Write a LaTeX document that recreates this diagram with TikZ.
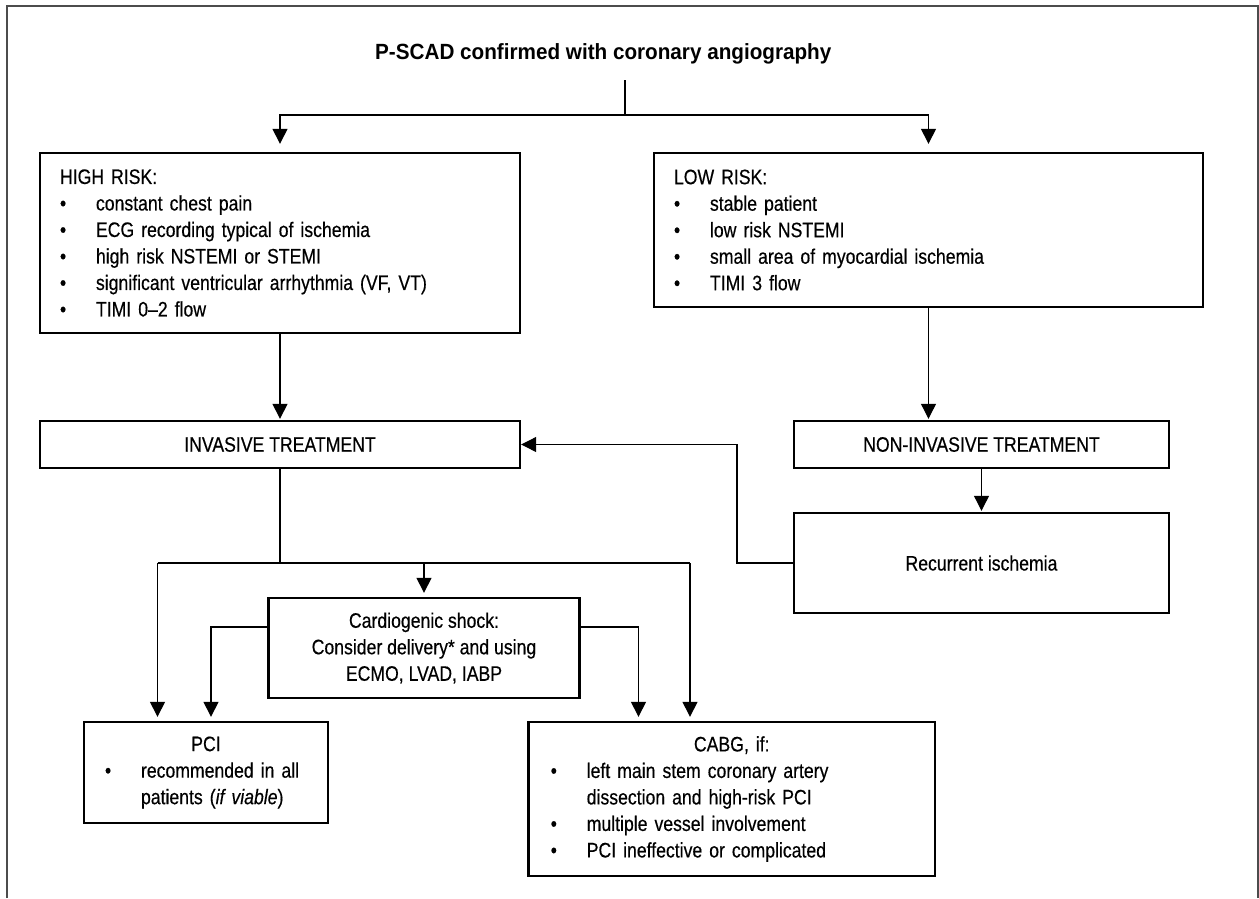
\documentclass[tikz,border=0pt]{standalone}
\usepackage{fontspec}
\setmainfont{Liberation Sans}[FakeStretch=0.84, FakeBold=0.4]
\newfontfamily\titlefont{Liberation Sans}[FakeStretch=0.94]
\usetikzlibrary{arrows.meta}

% bullet line, and the continuation line of a wrapped item
\newcommand{\bl}[1]{\par\noindent\makebox[36pt][l]{\textbullet}\mbox{#1}}
\newcommand{\cont}[1]{\par\noindent\hspace*{36pt}\mbox{#1}}
\newcommand{\bodyfont}{\fontsize{21}{26.5}\selectfont}

\begin{document}
\begin{tikzpicture}[x=1pt, y=-1pt,
  box/.style={draw, line width=2.4pt, inner sep=0pt, font=\bodyfont},
  listbox/.style={box, align=left},
  conn/.style={line width=1.4pt},
  arr/.style={conn, -{Triangle[length=15pt,width=15pt]}, shorten >=4pt},
]
\useasboundingbox (0,0) rectangle (1259,898);

% open frame
\draw[line width=2pt, black!70] (6.5,898) -- (6.5,5.5) -- (1257.5,5.5) -- (1257.5,898);

% title
\node[font=\titlefont\bfseries\fontsize{22}{26}\selectfont, anchor=base west, inner sep=0pt] (title) at (375,59)
  {P-SCAD confirmed with coronary angiography};
\coordinate (tbot) at (625,80);
\coordinate (split) at (625,115);

% risk boxes
\node[listbox, minimum width=480pt, minimum height=180pt, text width=440pt] (high) at (280,243)
  {HIGH RISK:\bl{constant chest pain}\bl{ECG recording typical of ischemia}%
   \bl{high risk NSTEMI or STEMI}\bl{significant ventricular arrhythmia (VF, VT)}\bl{TIMI 0--2 flow}};
\node[listbox, minimum width=549pt, minimum height=154pt, text width=509pt] (low) at (928.5,230)
  {LOW RISK:\bl{stable patient}\bl{low risk NSTEMI}\bl{small area of myocardial ischemia}\bl{TIMI 3 flow}};

% treatment boxes
\node[box, minimum width=480pt, minimum height=47pt] (inv) at (280,444.5) {INVASIVE TREATMENT};
\node[box, minimum width=375pt, minimum height=47pt] (noninv) at (981.5,444.5) {NON-INVASIVE TREATMENT};
\node[box, minimum width=375pt, minimum height=100pt] (rec) at (981.5,563) {Recurrent ischemia};
\node[box, minimum width=311pt, minimum height=100pt, align=center] (shock) at (424,648)
  {Cardiogenic shock:\\Consider delivery* and using\\ECMO, LVAD, IABP};

% outcome boxes
\node[listbox, minimum width=244pt, minimum height=101pt, text width=202pt] (pci) at (206,772.5)
  {{\centering PCI\par}\bl{recommended in all}\cont{patients (\textit{if viable})}};
\node[listbox, minimum width=406.5pt, minimum height=154pt, text width=362pt] (cabg) at (731.75,799)
  {{\centering CABG, if:\par}\bl{left main stem coronary artery}\cont{dissection and high-risk PCI}%
   \bl{multiple vessel involvement}\bl{PCI ineffective or complicated}};

% connectors
\draw[conn] (tbot) -- (split);
\draw[arr, shorten >=8pt] (split) -| (high.north);
\draw[arr, shorten >=8pt] (split) -| (low.north);
\draw[arr, shorten >=1pt] (high.south) -- (inv.north);
\draw[arr, line width=1.1pt, shorten >=1pt] (low.south) -- (low.south |- noninv.north);
\draw[arr, line width=1.1pt, shorten >=1pt] (noninv.south) -- (rec.north);

\coordinate (loop) at (737,563);
\draw[arr, line width=1.1pt, shorten >=0pt] (rec.west) -- (loop) |- (inv.east);

\coordinate (bus) at (280,563);
\coordinate (busL) at (157.5,563);
\coordinate (busR) at (690,563);
\coordinate (sL) at (211,0);
\coordinate (sR) at (638.5,0);
\draw[conn] (inv.south) -- (bus);
\draw[conn] (busL) -- (busR);
\draw[arr] (busL) -- (busL |- pci.north);
\draw[arr] (busR) -- (busR |- cabg.north);
\draw[arr] (bus -| shock.north) -- (shock.north);
\draw[arr] ([yshift=21pt]shock.west) -| (sL |- pci.north);
\draw[arr] ([yshift=21pt]shock.east) -| (sR |- cabg.north);
\end{tikzpicture}
\end{document}
